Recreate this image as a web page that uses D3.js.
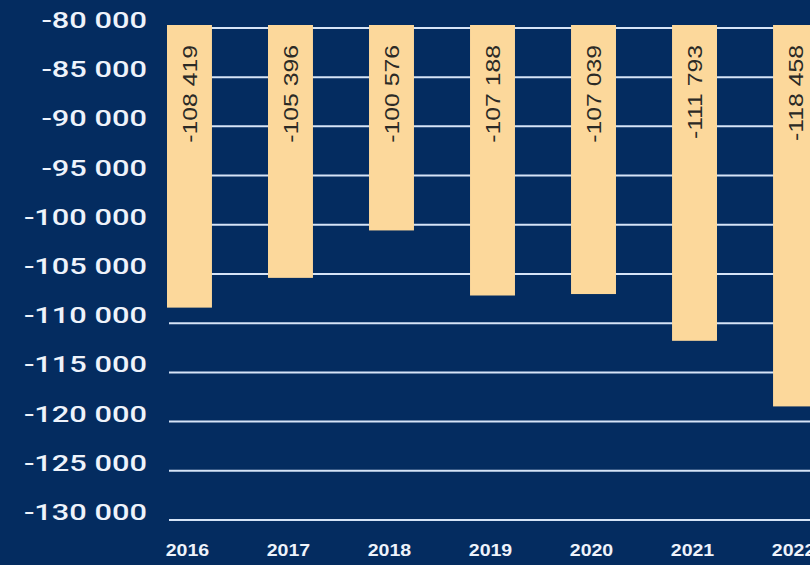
<!DOCTYPE html>
<html>
<head>
<meta charset="utf-8">
<script src="https://cdn.jsdelivr.net/npm/d3@7"></script>
<style>
  html, body { margin: 0; padding: 0; background: #042c60; overflow: hidden; }
  svg { display: block; }
</style>
</head>
<body>
<svg id="chart" width="810" height="565"></svg>
<script>
const years = ["2016", "2017", "2018", "2019", "2020", "2021", "2022"];
const values = [-108419, -105396, -100576, -107188, -107039, -111793, -118458];
const valueLabels = ["-108 419", "-105 396", "-100 576", "-107 188", "-107 039", "-111 793", "-118 458"];
const yTicks = [-80000, -85000, -90000, -95000, -100000, -105000, -110000, -115000, -120000, -125000, -130000];
const yTickLabels = ["-80 000", "-85 000", "-90 000", "-95 000", "-100 000", "-105 000", "-110 000", "-115 000", "-120 000", "-125 000", "-130 000"];
const yDomain = [-79700, -130000];

(function () {
const svg = d3.select("#chart");
const W = 810, H = 565;

svg.append("rect").attr("width", W).attr("height", H).attr("fill", "#042c60");

const y = d3.scaleLinear().domain(yDomain).range([25, 520]);
const x = d3.scaleBand().domain(years).range([167, 818]).paddingInner(0.555).paddingOuter(0);

// gridlines
svg.append("g").selectAll("line").data(yTicks).join("line")
  .attr("x1", 169).attr("x2", W)
  .attr("y1", d => y(d)).attr("y2", d => y(d))
  .attr("stroke", "#d6e4f7").attr("stroke-width", 2);

// y tick labels (via axis)
const yAxis = d3.axisLeft(y).tickValues(yTicks)
  .tickFormat((d, i) => yTickLabels[i]).tickSize(0).tickPadding(0);
const gy = svg.append("g").attr("transform", "translate(147,0)").call(yAxis);
gy.select(".domain").remove();
gy.selectAll("text")
  .attr("fill", "#eef3fb")
  .attr("font-family", "Roboto, 'Liberation Sans', Arial, sans-serif")
  .attr("font-weight", 500)
  .attr("font-size", 22)
  .attr("dy", "-0.02em")
  .attr("x", 0)
  .attr("text-anchor", "end")
  .attr("transform", "scale(1.4,1)");

// bars
const barTop = y(yDomain[0]);
svg.append("g").selectAll("rect").data(values).join("rect")
  .attr("x", (d, i) => x(years[i]))
  .attr("width", x.bandwidth())
  .attr("y", barTop)
  .attr("height", d => y(d) - barTop)
  .attr("fill", "#fcd89b");

// value labels (rotated)
svg.append("g").selectAll("text").data(values).join("text")
  .attr("transform", (d, i) => `translate(${x(years[i]) + x.bandwidth() / 2},${barTop + 20}) rotate(-90) scale(1.18,1)`)
  .attr("text-anchor", "end")
  .attr("dy", "0.36em")
  .attr("fill", "#2b2a26")
  .attr("font-family", "'Liberation Sans', Arial, sans-serif")
  .attr("font-size", 21)
  .text((d, i) => valueLabels[i]);

// x axis labels
const xAxis = d3.axisBottom(x).tickSize(0).tickPadding(0);
const gx = svg.append("g").attr("transform", "translate(0,556)").call(xAxis);
gx.select(".domain").remove();
gx.selectAll(".tick").attr("transform", d => `translate(${x(d) + x.bandwidth() / 2 - 2},0)`);
gx.selectAll("text")
  .attr("fill", "#eef3fb")
  .attr("font-family", "'Liberation Sans', Arial, sans-serif")
  .attr("font-weight", "bold")
  .attr("font-size", 17)
  .attr("y", 0)
  .attr("dy", 0)
  .attr("transform", "scale(1.15,1)");
})();
</script>
</body>
</html>
